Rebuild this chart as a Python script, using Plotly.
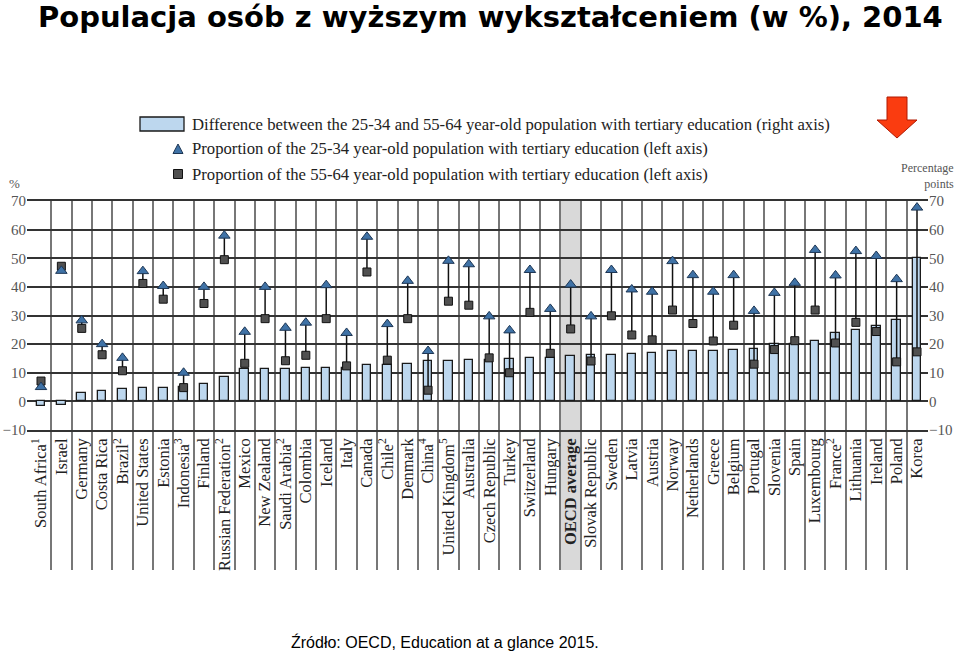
import plotly.graph_objects as go

countries = ["South Africa<sup>1</sup>", "Israel", "Germany", "Costa Rica", "Brazil<sup>2</sup>",
             "United States", "Estonia", "Indonesia<sup>3</sup>", "Finland",
             "Russian Federation<sup>2</sup>", "Mexico", "New Zealand", "Saudi Arabia<sup>2</sup>",
             "Colombia", "Iceland", "Italy", "Canada", "Chile<sup>2</sup>", "Denmark",
             "China<sup>4</sup>", "United Kingdom<sup>5</sup>", "Australia", "Czech Republic",
             "Turkey", "Switzerland", "Hungary", "<b>OECD average</b>", "Slovak Republic",
             "Sweden", "Latvia", "Austria", "Norway", "Netherlands", "Greece", "Belgium",
             "Portugal", "Slovenia", "Spain", "Luxembourg", "France<sup>2</sup>", "Lithuania",
             "Ireland", "Poland", "Korea"]

young_25_34 = [5.0, 45.6, 28.3, 20.0, 15.2, 45.5, 40.3, 10.0, 40.0, 57.9,
               24.3, 40.0, 25.7, 27.5, 40.6, 23.9, 57.5, 27.0, 42.1, 17.6,
               49.1, 47.9, 29.7, 24.8, 45.9, 32.3, 40.8, 29.7, 45.9, 39.1,
               38.3, 49.0, 44.1, 38.3, 44.1, 31.6, 37.9, 41.4, 52.9, 44.0,
               52.5, 50.8, 42.7, 67.7]

old_55_64 = [7.1, 47.2, 25.5, 16.3, 10.7, 41.2, 35.7, 4.8, 34.2, 49.5,
             13.3, 28.9, 14.2, 16.1, 28.9, 12.4, 45.2, 14.4, 28.9, 3.9,
             35.0, 33.6, 15.2, 10.0, 31.1, 16.8, 25.3, 14.1, 29.9, 23.2,
             21.5, 31.9, 27.2, 21.1, 26.6, 13.0, 18.1, 21.2, 31.9, 20.4,
             27.6, 24.4, 13.8, 17.3]

difference = [-1.6, -1.2, 3.0, 3.8, 4.3, 4.8, 4.8, 5.0, 6.2, 8.5,
              11.2, 11.3, 11.4, 11.6, 11.7, 11.8, 12.7, 12.7, 13.2, 14.1,
              14.1, 14.4, 14.6, 14.8, 15.3, 15.3, 15.8, 16.1, 16.1, 16.6,
              17.0, 17.5, 17.5, 17.5, 17.9, 18.4, 20.2, 20.2, 21.2, 24.0,
              25.1, 26.3, 28.6, 50.2]

y_ticks = [-10, 0, 10, 20, 30, 40, 50, 60, 70]

x = list(range(len(countries)))

# plot area in pixels (for layout helpers)
L, R, T, B = 27, 928, 201, 430
W, H = R - L, B - T


def px(p):
    return (p - L) / W


def py(p):
    return (B - p) / H


SERIF = "Liberation Serif"

fig = go.Figure()

fig.add_trace(go.Bar(
    x=x, y=difference, width=0.42,
    marker=dict(color="#bdd7ee", line=dict(color="#1a1a1a", width=1.3)),
    yaxis="y", showlegend=False, hoverinfo="skip"))

lx, ly = [], []
for i in x:
    lx += [i, i, None]
    ly += [old_55_64[i], young_25_34[i], None]
fig.add_trace(go.Scatter(x=lx, y=ly, mode="lines", line=dict(color="#111", width=1.5),
                         yaxis="y2", showlegend=False, hoverinfo="skip"))
fig.add_trace(go.Scatter(x=x, y=old_55_64, mode="markers",
                         marker=dict(symbol="square", size=8, color="#505050",
                                     line=dict(color="#111", width=1)),
                         yaxis="y2", showlegend=False))
fig.add_trace(go.Scatter(x=x, y=young_25_34, mode="markers",
                         marker=dict(symbol="triangle-up", size=10, color="#3f72a6",
                                     line=dict(color="#1d3654", width=1)),
                         yaxis="y2", showlegend=False))

shapes = []
# OECD average shading
oecd = countries.index("<b>OECD average</b>")
shapes.append(dict(type="rect", xref="x", yref="paper", x0=oecd - 0.5, x1=oecd + 0.5,
                   y0=py(570), y1=1, fillcolor="#d9d9d9", line=dict(width=0), layer="below"))

# legend keys
shapes.append(dict(type="rect", xref="paper", yref="paper", x0=px(140), x1=px(184),
                   y0=py(131), y1=py(117), fillcolor="#bdd7ee",
                   line=dict(color="#1a1a1a", width=1.3)))
tx, ty = 178, 149
shapes.append(dict(type="path", xref="paper", yref="paper",
                   path=f"M {px(tx-5)} {py(ty+4.5)} L {px(tx+5)} {py(ty+4.5)} L {px(tx)} {py(ty-5)} Z",
                   fillcolor="#3f72a6", line=dict(color="#1d3654", width=1)))
sx, sy = 178, 174
shapes.append(dict(type="rect", xref="paper", yref="paper", x0=px(sx-4.5), x1=px(sx+4.5),
                   y0=py(sy+4.5), y1=py(sy-4.5), fillcolor="#505050",
                   line=dict(color="#111", width=1)))

# red arrow
arrow_pts = [(887, 97), (907, 97), (907, 120), (917, 120), (897, 138), (877, 120), (887, 120)]
path = "M " + " L ".join(f"{px(a)} {py(b)}" for a, b in arrow_pts) + " Z"
shapes.append(dict(type="path", xref="paper", yref="paper", path=path,
                   fillcolor="#fa3c10", line=dict(color="#b01800", width=1)))

annotations = [
    dict(text="<b>Populacja osób z wyższym wykształceniem (w %), 2014</b>",
         xref="paper", yref="paper", x=px(490), y=py(17), xanchor="center", yanchor="middle",
         showarrow=False, font=dict(family="DejaVu Sans", size=29, color="#000")),
    dict(text="Źródło: OECD, Education at a glance 2015.",
         xref="paper", yref="paper", x=px(445), y=py(642), xanchor="center", yanchor="middle",
         showarrow=False, font=dict(family="Liberation Sans", size=16, color="#000")),
    dict(text="Difference between the 25-34 and 55-64 year-old population with tertiary education (right axis)",
         xref="paper", yref="paper", x=px(190), y=py(124), xanchor="left", yanchor="middle",
         showarrow=False, font=dict(family=SERIF, size=16.7, color="#222")),
    dict(text="Proportion of the 25-34 year-old population with tertiary education (left axis)",
         xref="paper", yref="paper", x=px(190), y=py(149), xanchor="left", yanchor="middle",
         showarrow=False, font=dict(family=SERIF, size=16.7, color="#222")),
    dict(text="Proportion of the 55-64 year-old population with tertiary education (left axis)",
         xref="paper", yref="paper", x=px(190), y=py(174), xanchor="left", yanchor="middle",
         showarrow=False, font=dict(family=SERIF, size=16.7, color="#222")),
    dict(text="Percentage<br>points", align="right",
         xref="paper", yref="paper", x=px(956), y=py(176), xanchor="right", yanchor="middle",
         showarrow=False, font=dict(family=SERIF, size=12, color="#555")),
    dict(text="%", xref="paper", yref="paper", x=px(14), y=py(183), xanchor="center",
         yanchor="middle", showarrow=False, font=dict(family=SERIF, size=13, color="#555")),
]

axis_font = dict(family=SERIF, size=15, color="#555")

fig.update_layout(
    width=959, height=652,
    margin=dict(l=L, r=959 - R, t=T, b=652 - B, pad=0, autoexpand=False),
    paper_bgcolor="white", plot_bgcolor="rgba(0,0,0,0)",
    showlegend=False, bargap=0,
    xaxis=dict(range=[-0.687, 43.54], tickmode="array", tickvals=x, ticktext=countries,
               tickangle=-90, ticks="", showgrid=False, zeroline=False, automargin=False,
               tickfont=dict(family=SERIF, size=16.5, color="#222"),
               showline=True, mirror=True, linecolor="#333", linewidth=1.5,
               minor=dict(tickmode="array", tickvals=[i + 0.5 for i in x[:-1]],
                          ticks="outside", ticklen=138, tickwidth=1.5, tickcolor="#777",
                          showgrid=True, gridcolor="#777", gridwidth=1.5)),
    yaxis=dict(range=[-10, 70], tickmode="array", tickvals=y_ticks, showgrid=True,
               gridcolor="#333", gridwidth=1.5, zeroline=False, ticks="", automargin=False,
               tickfont=axis_font),
    yaxis2=dict(range=[-10, 70], tickmode="array", tickvals=y_ticks, overlaying="y",
                side="right", showgrid=False, zeroline=False, ticks="", automargin=False,
                tickfont=axis_font),
    shapes=shapes, annotations=annotations,
)

fig.write_html("out.html", config={"displayModeBar": False},
               post_script="document.body.style.margin='0';")
